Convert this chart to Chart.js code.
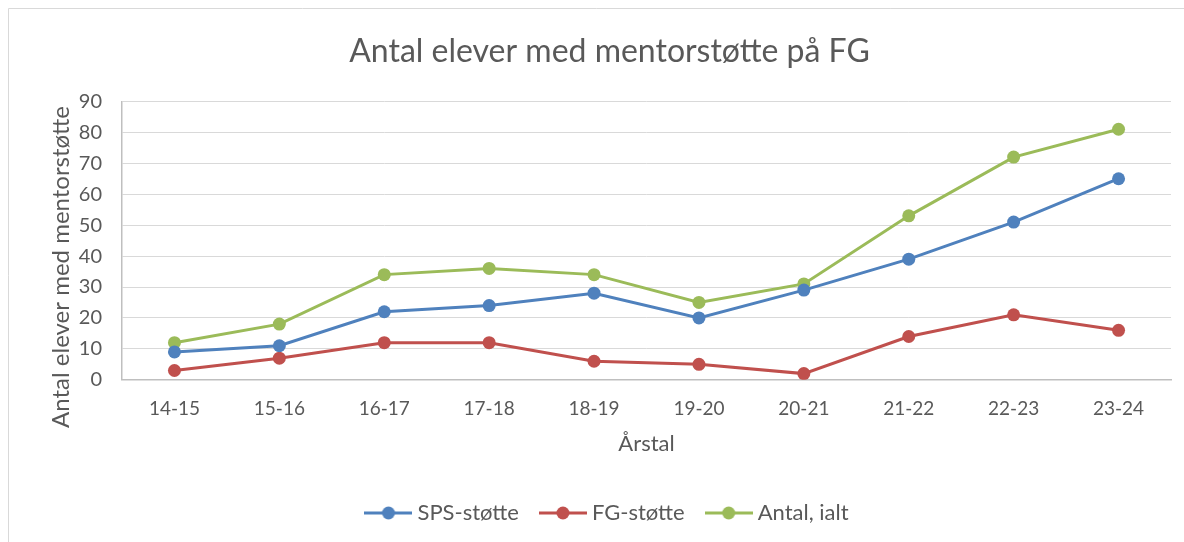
<!DOCTYPE html>
<html>
<head>
<meta charset="utf-8">
<script src="https://cdn.jsdelivr.net/npm/chart.js@4.4.0/dist/chart.umd.min.js"></script>
<style>
  html, body { margin: 0; padding: 0; background: #fff; }
  #wrap { width: 1184px; height: 542px; position: relative; }
</style>
</head>
<body>
<div id="wrap"><canvas id="myChart" width="1184" height="542"></canvas></div>
<script>
var labels = ["14-15", "15-16", "16-17", "17-18", "18-19", "19-20", "20-21", "21-22", "22-23", "23-24"];
var spsValues = [9, 11, 22, 24, 28, 20, 29, 39, 51, 65];
var fgValues = [3, 7, 12, 12, 6, 5, 2, 14, 21, 16];
var totalValues = [12, 18, 34, 36, 34, 25, 31, 53, 72, 81];
var seriesNames = ["SPS-støtte", "FG-støtte", "Antal, ialt"];
var colors = ["#4f81bd", "#c0504d", "#9bbb59"];
var yTitle = "Antal elever med mentorstøtte";

var fontFamily = "Lato, 'Open Sans', sans-serif";
var textColor = "#595959";

// little line + dot picture for the legend
function legendMarker(color) {
  var c = document.createElement("canvas");
  c.width = 48; c.height = 16;
  var g = c.getContext("2d");
  g.strokeStyle = color;
  g.lineWidth = 3;
  g.beginPath();
  g.moveTo(0, 8); g.lineTo(48, 8);
  g.stroke();
  g.fillStyle = color;
  g.beginPath();
  g.arc(24, 8, 6.5, 0, Math.PI * 2);
  g.fill();
  return c;
}

// outer frame + the y axis title (sits a bit lower than chart.js would centre it)
var extras = {
  id: "extras",
  beforeDraw: function(chart) {
    var c = chart.ctx;
    c.save();
    c.strokeStyle = "#d9d9d9";
    c.lineWidth = 1;
    c.beginPath();
    c.moveTo(8.5, 542);
    c.lineTo(8.5, 8.5);
    c.lineTo(1184, 8.5);
    c.stroke();
    c.restore();
  },
  afterDraw: function(chart) {
    var c = chart.ctx;
    c.save();
    c.translate(61, 267);
    c.rotate(-Math.PI / 2);
    c.font = "24px " + fontFamily;
    c.fillStyle = textColor;
    c.textAlign = "center";
    c.textBaseline = "middle";
    c.fillText(yTitle, 0, 0);
    c.restore();
  }
};

function makeSet(name, values, color) {
  return {
    label: name,
    data: values,
    borderColor: color,
    backgroundColor: color,
    borderWidth: 3,
    pointRadius: 6.5,
    pointHoverRadius: 6.5,
    pointBorderWidth: 0,
    pointStyle: "circle",
    tension: 0
  };
}

var ctx = document.getElementById("myChart").getContext('2d');
var myChart = new Chart(ctx, {
  type: 'line',
  data: {
    labels: labels,
    datasets: [
      makeSet(seriesNames[0], spsValues, colors[0]),
      makeSet(seriesNames[1], fgValues, colors[1]),
      makeSet(seriesNames[2], totalValues, colors[2])
    ]
  },
  options: {
    responsive: false,
    animation: false,
    events: [],
    layout: { padding: { top: 32, right: 13, bottom: 8, left: 48 } },
    plugins: {
      title: {
        display: true,
        text: "Antal elever med mentorstøtte på FG",
        color: textColor,
        font: { family: fontFamily, size: 32, weight: "normal" },
        padding: { top: 0, bottom: 31 }
      },
      legend: {
        position: "bottom",
        labels: {
          color: textColor,
          font: { family: fontFamily, size: 22 },
          usePointStyle: true,
          pointStyleWidth: 36,
          padding: 26,
          generateLabels: function(chart) {
            return chart.data.datasets.map(function(ds, i) {
              return {
                text: ds.label,
                pointStyle: legendMarker(colors[i]),
                fillStyle: colors[i],
                strokeStyle: colors[i],
                fontColor: textColor,
                lineWidth: 0,
                datasetIndex: i
              };
            });
          }
        }
      },
      tooltip: { enabled: false }
    },
    scales: {
      x: {
        offset: true,
        grid: { display: false, drawTicks: false },
        border: { display: true, color: "#bfbfbf", width: 1.5 },
        ticks: { color: textColor, font: { family: fontFamily, size: 19 }, padding: 18 },
        title: {
          display: true,
          text: "Årstal",
          color: textColor,
          font: { family: fontFamily, size: 22 },
          padding: { top: -8, bottom: 19 }
        }
      },
      y: {
        min: 0,
        max: 90,
        afterFit: function(scale) { scale.width = 74; },
        grid: { color: "#d9d9d9", lineWidth: 1, drawTicks: false },
        border: { display: true, color: "#bfbfbf", width: 1.5 },
        ticks: { stepSize: 10, color: textColor, font: { family: fontFamily, size: 20 }, padding: 20 },
        title: { display: false }
      }
    }
  },
  plugins: [extras]
});
</script>
</body>
</html>
